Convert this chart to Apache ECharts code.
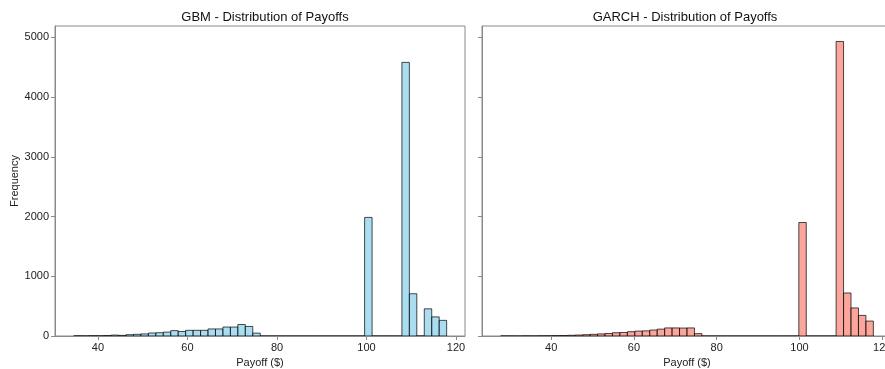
<!DOCTYPE html>
<html>
<head>
<meta charset="utf-8">
<script src="https://cdn.jsdelivr.net/npm/echarts@6/dist/echarts.min.js"></script>
<style>
html,body{margin:0;padding:0;background:#fff;}
#chart{width:885px;height:369px;}
</style>
</head>
<body>
<div id="chart"></div>
<script>
// Histogram bins (50 bins each)
const gbmBinStart = 34.6;
const gbmBinWidth = 1.666;
const gbmCounts = [3, 2, 5, 4, 8, 15, 10, 22, 28, 35, 50, 55, 65, 90, 75, 95, 95, 95, 118, 118, 150, 150, 192, 160, 48,
  0, 0, 0, 0, 0, 0, 0, 0, 0, 0, 0, 0, 0, 0,
  1985, 0, 0, 0, 0, 4580, 707, 0, 455, 320, 262];

const garchBinStart = 27.8;
const garchBinWidth = 1.801;
const garchCounts = [1, 1, 0, 2, 1, 3, 4, 6, 8, 12, 16, 22, 28, 35, 42, 55, 58, 72, 82, 86, 100, 115, 135, 135, 133, 135, 40,
  0, 0, 0, 0, 0, 0, 0, 0, 0, 0, 0, 0, 0,
  1900, 0, 0, 0, 0, 4930, 720, 470, 345, 250];

const xTicks = [40, 60, 80, 100, 120];
const yTicks = [0, 1000, 2000, 3000, 4000, 5000];
const titles = ['GBM - Distribution of Payoffs', 'GARCH - Distribution of Payoffs'];
const xName = 'Payoff ($)';
const yName = 'Frequency';

function bins(start, width, counts) {
  return counts.map((c, i) => [start + i * width, start + (i + 1) * width, c]);
}

const FONT = 'Liberation Sans, Arial, sans-serif';
const SPINE = '#8a8a8a';

function renderer(fill) {
  return function (params, api) {
    const p0 = api.coord([api.value(0), api.value(2)]);
    const p1 = api.coord([api.value(1), 0]);
    return {
      type: 'rect',
      shape: { x: p0[0], y: p0[1], width: p1[0] - p0[0], height: p1[1] - p0[1] },
      style: { fill: fill, stroke: 'rgba(0,0,0,0.7)', lineWidth: 1 }
    };
  };
}

function xAxisCfg(idx, min, max) {
  return {
    type: 'value', gridIndex: idx, min: min, max: max,
    name: xName, nameLocation: 'middle', nameGap: 21,
    nameTextStyle: { fontFamily: FONT, fontSize: 11, color: '#222' },
    axisLine: { show: true, lineStyle: { color: SPINE, width: 1 } },
    axisTick: { show: true, length: 4, lineStyle: { color: SPINE }, customValues: xTicks },
    axisLabel: { fontFamily: FONT, fontSize: 11, color: '#222', margin: 6, customValues: xTicks,
      formatter: v => String(v) },
    splitLine: { show: false }
  };
}
function yAxisCfg(idx, showLabel) {
  return {
    type: 'value', gridIndex: idx, min: 0, max: 5189,
    name: showLabel ? yName : '', nameLocation: 'middle', nameGap: 35,
    nameTextStyle: { fontFamily: FONT, fontSize: 11, color: '#222' },
    axisLine: { show: true, lineStyle: { color: SPINE, width: 1 } },
    axisTick: { show: true, length: 4, lineStyle: { color: SPINE }, customValues: yTicks },
    axisLabel: { show: showLabel, fontFamily: FONT, fontSize: 11, color: '#222', margin: 6, customValues: yTicks,
      formatter: v => String(v) },
    splitLine: { show: false }
  };
}

const chart = echarts.init(document.getElementById('chart'), null, { renderer: 'canvas' });
chart.setOption({
  animation: false,
  backgroundColor: '#fff',
  grid: [
    { left: 55, top: 26, width: 410, height: 310, show: true, borderColor: SPINE, borderWidth: 1,
      backgroundColor: 'transparent', containLabel: false, outerBoundsMode: 'none' },
    { left: 482, top: 26, width: 410, height: 310, show: true, borderColor: SPINE, borderWidth: 1,
      backgroundColor: 'transparent', containLabel: false, outerBoundsMode: 'none' }
  ],
  xAxis: [xAxisCfg(0, 30.4, 122.0), xAxisCfg(1, 23.3, 122.35)],
  yAxis: [yAxisCfg(0, true), yAxisCfg(1, false)],
  series: [
    { type: 'custom', xAxisIndex: 0, yAxisIndex: 0, renderItem: renderer('rgba(135,206,235,0.7)'),
      encode: { x: [0, 1], y: 2 }, data: bins(gbmBinStart, gbmBinWidth, gbmCounts), clip: true },
    { type: 'custom', xAxisIndex: 1, yAxisIndex: 1, renderItem: renderer('rgba(250,128,114,0.7)'),
      encode: { x: [0, 1], y: 2 }, data: bins(garchBinStart, garchBinWidth, garchCounts), clip: true }
  ],
  title: [
    { text: titles[0], left: 260, top: 6, textAlign: 'center', textStyle: { fontFamily: FONT, fontSize: 13, fontWeight: 'normal', color: '#111' } },
    { text: titles[1], left: 680, top: 6, textAlign: 'center', textStyle: { fontFamily: FONT, fontSize: 13, fontWeight: 'normal', color: '#111' } }
  ]
});
</script>
</body>
</html>
